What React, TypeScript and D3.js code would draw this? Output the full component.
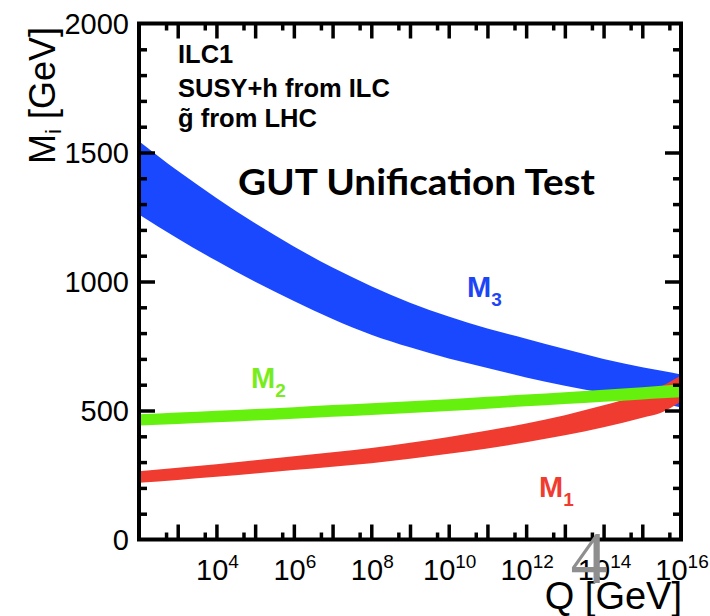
import { useEffect, useRef } from 'react';
import * as d3 from 'd3';

// log10(Q / GeV) sample points
const logQ = [2, 3, 4, 5, 6, 7, 8, 9, 10, 11, 12, 13, 14, 15, 15.5, 16];

// band edges in GeV
const m3Upper = [1544, 1429, 1324, 1226, 1136, 1054, 982, 918, 864, 818, 778, 738, 700, 668, 654, 640];
const m3Lower = [1260, 1167, 1080, 999, 924, 855, 794, 745, 702, 665, 628, 596, 568, 543, 528, 512];
const m2Upper = [485, 492, 499, 506, 513, 521, 528, 536, 544, 553, 562, 571, 580, 590, 596, 601];
const m2Lower = [442, 448, 454, 461, 468, 476, 483, 490, 498, 507, 516, 525, 534, 543, 547, 551];
const m1Upper = [265, 278, 292, 307, 323, 338, 355, 375, 397, 422, 450, 482, 520, 565, 595, 636];
const m1Lower = [220, 231, 243, 256, 269, 282, 296, 313, 332, 353, 377, 404, 435, 472, 492, 535];

const yMajor = [0, 500, 1000, 1500, 2000];
const xLabelExps = [4, 6, 8, 10, 12, 14, 16];
const infoLines = ['ILC1', 'SUSY+h from ILC', 'g\u0303 from LHC'];

export default function App() {
  const ref = useRef<SVGSVGElement>(null);

  useEffect(() => {
    const svg = d3.select(ref.current);
    svg.selectAll('*').remove();

    const left = 139, right = 681, top = 23.5, bottom = 539.5;
    const font = 'Liberation Sans, Arial, Helvetica, sans-serif';

    const x = d3.scaleLog().domain([1e2, 1e16]).range([left, right]);
    const y = d3.scaleLinear().domain([0, 2000]).range([bottom, top]);

    svg.append('defs').append('clipPath').attr('id', 'plotClip')
      .append('rect')
      .attr('x', left).attr('y', top)
      .attr('width', right - left).attr('height', bottom - top);

    // bands (blue under red under green)
    const bands = [
      { lo: m3Lower, hi: m3Upper, color: '#1a48ff' },
      { lo: m1Lower, hi: m1Upper, color: '#f03c30' },
      { lo: m2Lower, hi: m2Upper, color: '#66f00e' },
    ];
    const area = d3.area<{ q: number; lo: number; hi: number }>()
      .x(d => x(d.q))
      .y0(d => y(d.lo))
      .y1(d => y(d.hi))
      .curve(d3.curveMonotoneX);

    const bandG = svg.append('g').attr('clip-path', 'url(#plotClip)');
    bands.forEach(b => {
      const data = logQ.map((l, i) => ({ q: Math.pow(10, l), lo: b.lo[i], hi: b.hi[i] }));
      bandG.append('path').attr('d', area(data)).attr('fill', b.color);
    });

    // ticks
    const majorQ = d3.range(3, 16).map(n => Math.pow(10, n));
    const minorQ = d3.range(2, 16).map(n => 5 * Math.pow(10, n));
    const yMinor = d3.range(100, 2000, 100).filter(v => v % 500 !== 0);
    const yMaj = yMajor.filter(v => v > 0 && v < 2000);

    const drawAxis = (axis, tx, ty) => {
      const g = svg.append('g').attr('transform', `translate(${tx},${ty})`).call(axis);
      g.select('.domain').remove();
      g.selectAll('text').remove();
      g.selectAll('line').attr('stroke', '#000').attr('stroke-width', 3.5);
    };
    drawAxis(d3.axisBottom(x).tickValues(majorQ).tickSize(-15).tickSizeOuter(0), 0, bottom);
    drawAxis(d3.axisBottom(x).tickValues(minorQ).tickSize(-7).tickSizeOuter(0), 0, bottom);
    drawAxis(d3.axisTop(x).tickValues(majorQ).tickSize(-15).tickSizeOuter(0), 0, top);
    drawAxis(d3.axisTop(x).tickValues(minorQ).tickSize(-7).tickSizeOuter(0), 0, top);
    drawAxis(d3.axisLeft(y).tickValues(yMaj).tickSize(-16).tickSizeOuter(0), left, 0);
    drawAxis(d3.axisLeft(y).tickValues(yMinor).tickSize(-8).tickSizeOuter(0), left, 0);
    drawAxis(d3.axisRight(y).tickValues(yMaj).tickSize(-16).tickSizeOuter(0), right, 0);
    drawAxis(d3.axisRight(y).tickValues(yMinor).tickSize(-8).tickSizeOuter(0), right, 0);

    // frame
    svg.append('rect')
      .attr('x', left).attr('y', top)
      .attr('width', right - left).attr('height', bottom - top)
      .attr('fill', 'none').attr('stroke', '#000').attr('stroke-width', 4);

    // y tick labels
    svg.append('g').selectAll('text').data(yMajor).enter().append('text')
      .attr('x', 129).attr('y', d => y(d) + 10)
      .attr('text-anchor', 'end')
      .style('font-family', font).style('font-size', '29px')
      .text(d => d);

    // x tick labels 10^n
    xLabelExps.forEach(n => {
      const t = svg.append('text')
        .attr('x', x(Math.pow(10, n)) + 1).attr('y', 580)
        .attr('text-anchor', 'middle')
        .style('font-family', font).style('font-size', '29px');
      t.append('tspan').text('10');
      t.append('tspan').attr('dy', -12).style('font-size', '19px').text(n);
    });

    // axis titles
    const yt = svg.append('text')
      .attr('transform', 'translate(55,164) rotate(-90)')
      .style('font-family', font).style('font-size', '36px');
    yt.append('tspan').text('M');
    yt.append('tspan').attr('dy', 6).style('font-size', '22px').text('i');
    yt.append('tspan').attr('dy', -6).text('\u00a0[GeV]');

    svg.append('text')
      .attr('x', 682).attr('y', 609)
      .attr('text-anchor', 'end')
      .style('font-family', font).style('font-size', '38px')
      .text('Q [GeV]');

    // info text
    svg.append('g').selectAll('text').data(infoLines).enter().append('text')
      .attr('x', 178).attr('y', (d, i) => [63, 97, 127][i])
      .style('font-family', font).style('font-size', '25.5px').style('font-weight', 'bold')
      .text(d => d);

    svg.append('text')
      .attr('x', 238).attr('y', 195)
      .attr('textLength', 357).attr('lengthAdjust', 'spacingAndGlyphs')
      .style('font-family', 'Lato, Open Sans, sans-serif').style('font-size', '37px').style('font-weight', 'bold')
      .text('GUT Unification Test');

    // band labels
    const labels = [
      { x: 467, y: 297, sub: '3', color: '#1d45f5' },
      { x: 251, y: 388, sub: '2', color: '#78ec1c' },
      { x: 539, y: 497, sub: '1', color: '#f03c30' },
    ];
    labels.forEach(l => {
      const t = svg.append('text')
        .attr('x', l.x).attr('y', l.y)
        .attr('fill', l.color)
        .style('font-family', font).style('font-size', '29px').style('font-weight', 'bold');
      t.append('tspan').text('M');
      t.append('tspan').attr('dy', 9).style('font-size', '19px').text(l.sub);
    });

    // slide page number
    svg.append('text')
      .attr('x', 589).attr('y', 583)
      .attr('text-anchor', 'middle')
      .attr('fill', '#8e8e8e')
      .style('font-family', 'Liberation Serif, Times New Roman, serif').style('font-size', '74px')
      .text('4');
  }, []);

  return (
    <div style={{ position: 'absolute', left: 0, top: 0 }}>
      <svg ref={ref} width={710} height={616} style={{ display: 'block', background: '#fff' }} />
    </div>
  );
}
